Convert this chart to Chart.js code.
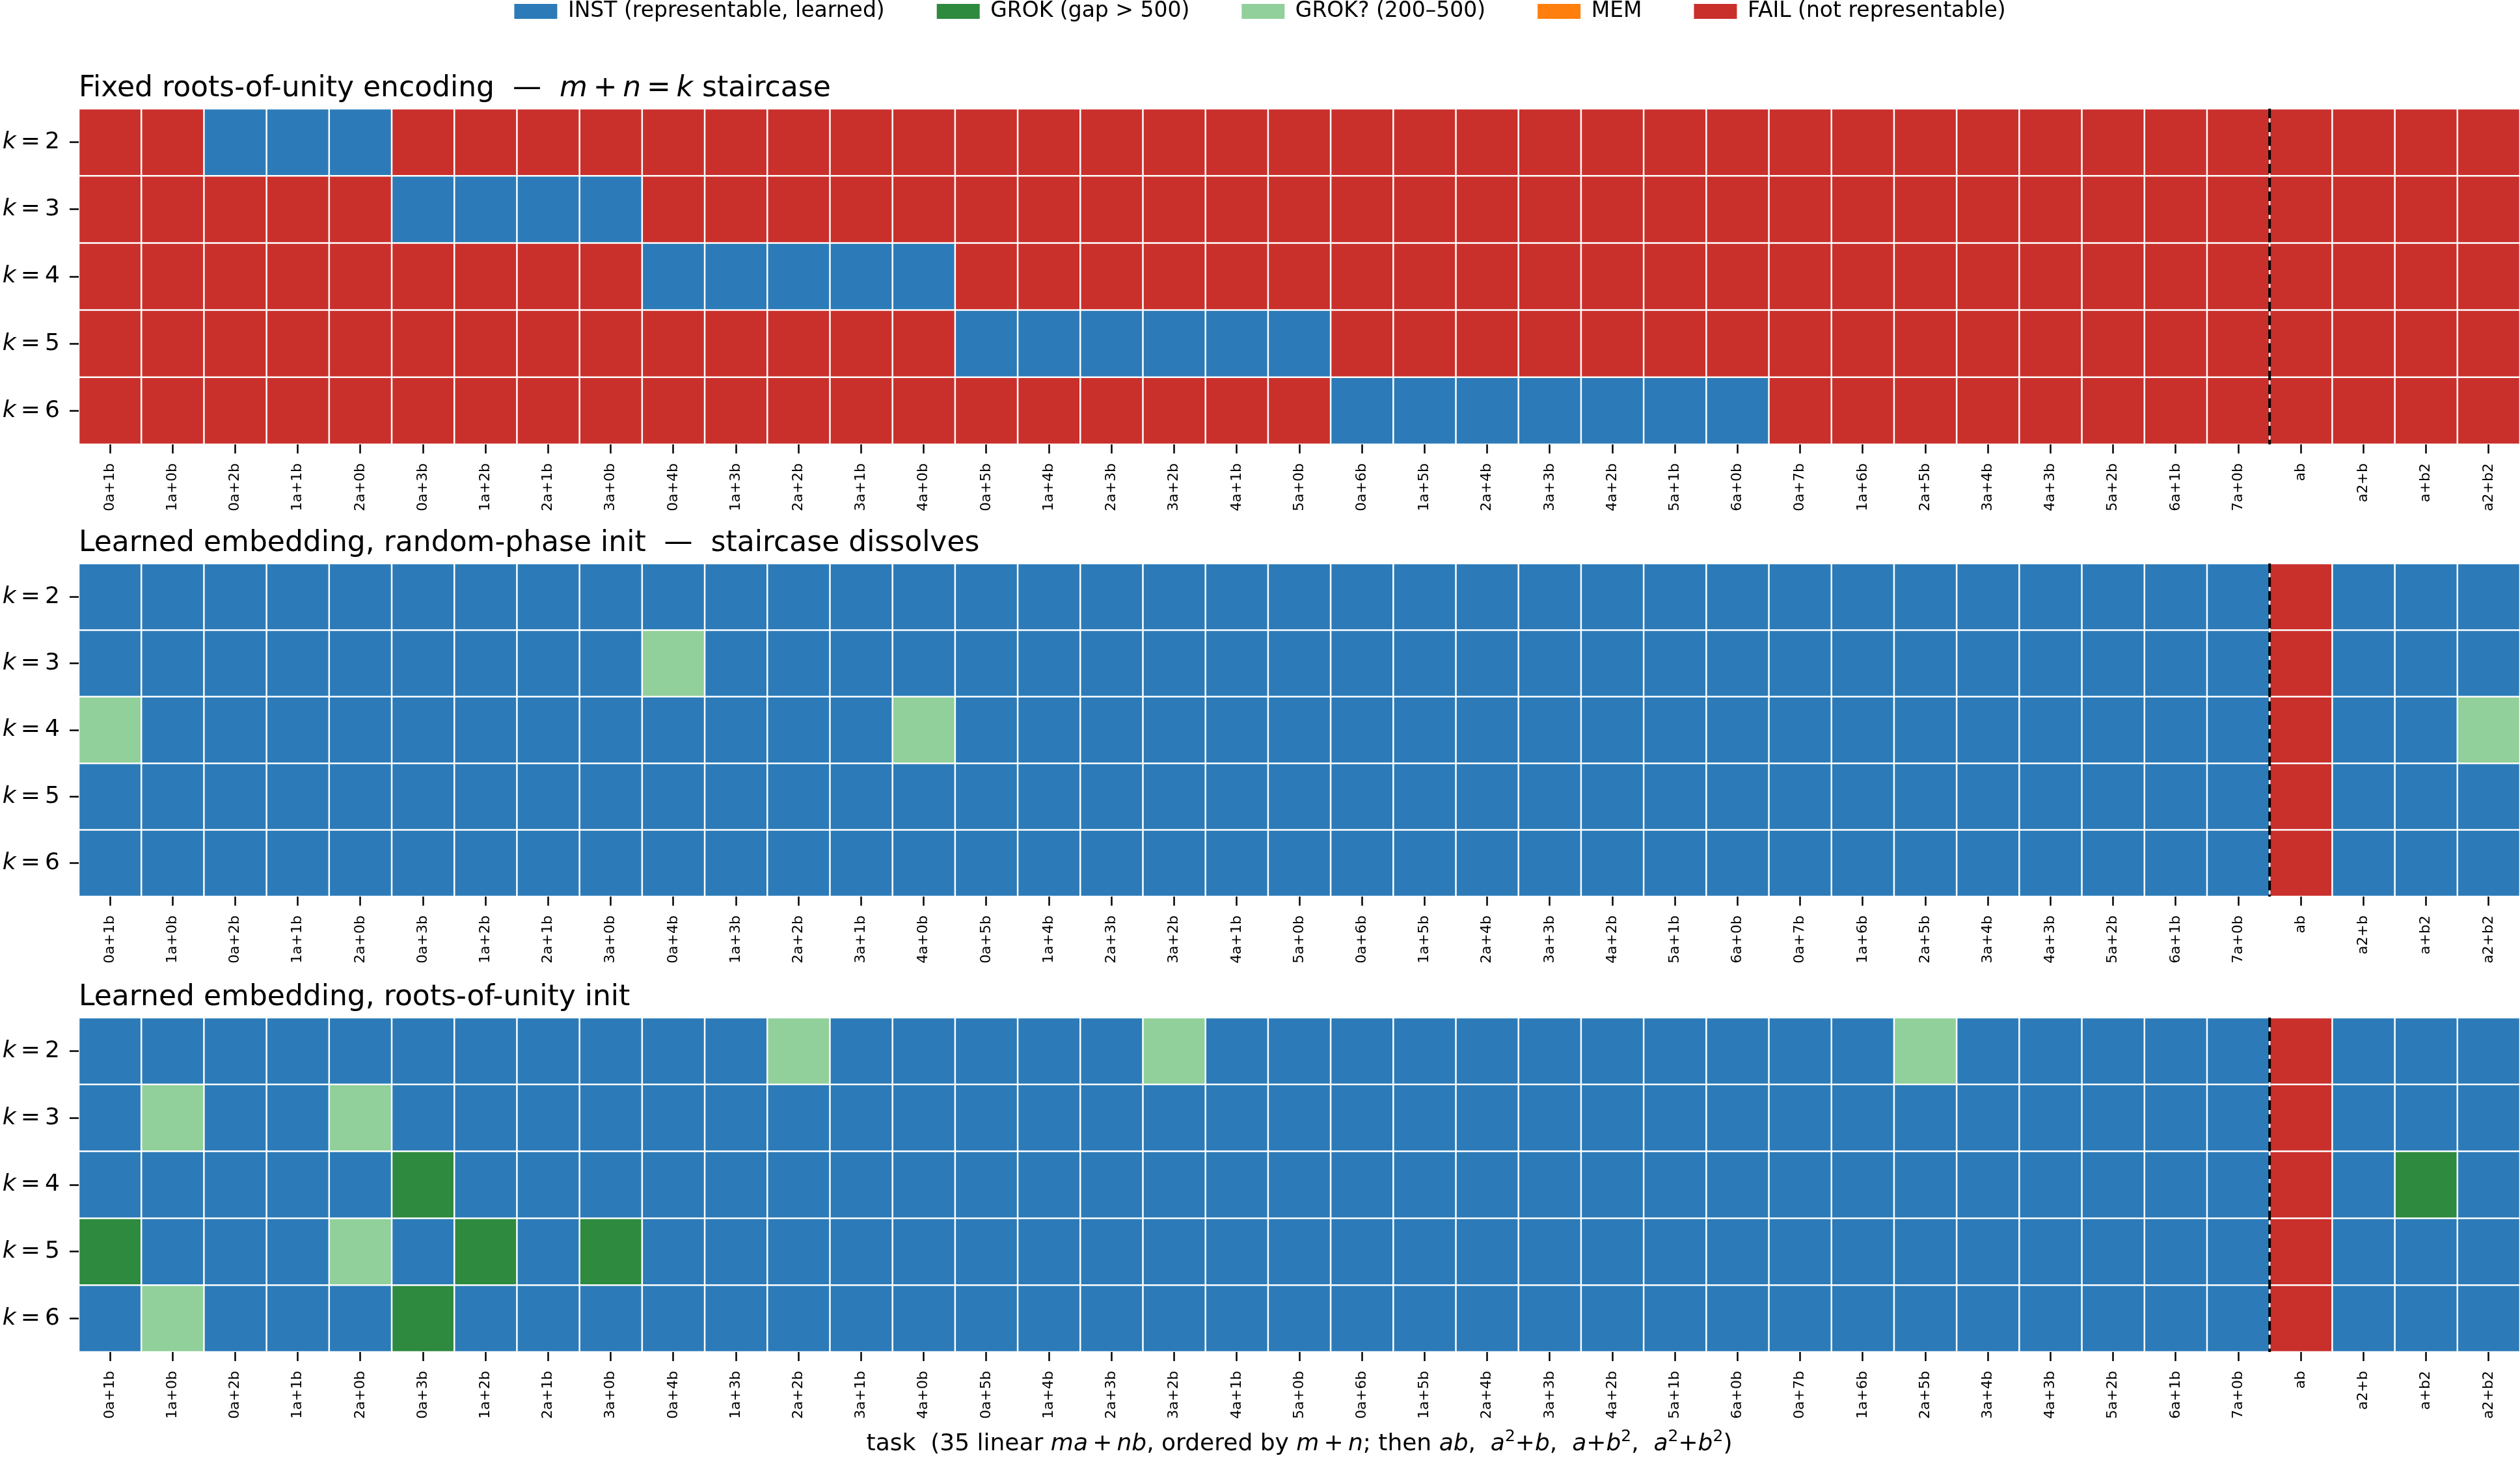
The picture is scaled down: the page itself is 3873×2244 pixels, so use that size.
<!DOCTYPE html>
<html>
<head>
<meta charset="utf-8">
<script src="https://cdn.jsdelivr.net/npm/chart.js@4.4.1/dist/chart.umd.min.js"></script>
<style>
  body { margin: 0; background: #fff; }
  #fig { position: relative; width: 3873px; height: 2244px; overflow: hidden; background: #fff; }
  #fig canvas { position: absolute; left: 0; }
</style>
</head>
<body>
<div id="fig">
  <canvas id="c1" width="3873" height="902" style="top:-79px"></canvas>
  <canvas id="c2" width="3873" height="738" style="top:780px"></canvas>
  <canvas id="c3" width="3873" height="766" style="top:1478px"></canvas>
</div>
<script>
const FONT = 'DejaVu Sans';
const TS = '\u2009'; // thin space, as mathtext puts around + and =

const taskLabels = [
  '0a+1b', '1a+0b',
  '0a+2b', '1a+1b', '2a+0b',
  '0a+3b', '1a+2b', '2a+1b', '3a+0b',
  '0a+4b', '1a+3b', '2a+2b', '3a+1b', '4a+0b',
  '0a+5b', '1a+4b', '2a+3b', '3a+2b', '4a+1b', '5a+0b',
  '0a+6b', '1a+5b', '2a+4b', '3a+3b', '4a+2b', '5a+1b', '6a+0b',
  '0a+7b', '1a+6b', '2a+5b', '3a+4b', '4a+3b', '5a+2b', '6a+1b', '7a+0b',
  'ab', 'a2+b', 'a+b2', 'a2+b2'
];
const kValues = [2, 3, 4, 5, 6];

// status codes: I = INST, G = GROK, g = GROK?, M = MEM, F = FAIL
// rows are k = 2..6, '|' only separates the m+n groups
const fixedGrid = [
  'FF|III|FFFF|FFFFF|FFFFFF|FFFFFFF|FFFFFFFF|FFFF',
  'FF|FFF|IIII|FFFFF|FFFFFF|FFFFFFF|FFFFFFFF|FFFF',
  'FF|FFF|FFFF|IIIII|FFFFFF|FFFFFFF|FFFFFFFF|FFFF',
  'FF|FFF|FFFF|FFFFF|IIIIII|FFFFFFF|FFFFFFFF|FFFF',
  'FF|FFF|FFFF|FFFFF|FFFFFF|IIIIIII|FFFFFFFF|FFFF'
];
const randomGrid = [
  'II|III|IIII|IIIII|IIIIII|IIIIIII|IIIIIIII|FIII',
  'II|III|IIII|gIIII|IIIIII|IIIIIII|IIIIIIII|FIII',
  'gI|III|IIII|IIIIg|IIIIII|IIIIIII|IIIIIIII|FIIg',
  'II|III|IIII|IIIII|IIIIII|IIIIIII|IIIIIIII|FIII',
  'II|III|IIII|IIIII|IIIIII|IIIIIII|IIIIIIII|FIII'
];
const rootsGrid = [
  'II|III|IIII|IIgII|IIIgII|IIIIIII|IIgIIIII|FIII',
  'Ig|IIg|IIII|IIIII|IIIIII|IIIIIII|IIIIIIII|FIII',
  'II|III|GIII|IIIII|IIIIII|IIIIIII|IIIIIIII|FIGI',
  'GI|IIg|IGIG|IIIII|IIIIII|IIIIIII|IIIIIIII|FIII',
  'Ig|III|GIII|IIIII|IIIIII|IIIIIII|IIIIIIII|FIII'
];

const statusKeys = ['I', 'G', 'g', 'M', 'F'];
const statusNames = ['INST (representable, learned)', 'GROK (gap > 500)', 'GROK? (200\u2013500)', 'MEM', 'FAIL (not representable)'];
const statusColors = { I: '#2c7bb8', G: '#2e8a3e', g: '#91d09a', M: '#ff7f0e', F: '#c9302c' };

const titles = [
  [['Fixed roots-of-unity encoding  \u2014  ', 'n'], ['m', 'i'], [TS + '+' + TS, 'n'], ['n', 'i'], [TS + '=' + TS, 'n'], ['k', 'i'], [' staircase', 'n']],
  [['Learned embedding, random-phase init  \u2014  staircase dissolves', 'n']],
  [['Learned embedding, roots-of-unity init', 'n']]
];
const xLabel = [
  ['task  (35 linear ', 'n'], ['ma', 'i'], [TS + '+' + TS, 'n'], ['nb', 'i'], [', ordered by ', 'n'], ['m', 'i'], [TS + '+' + TS, 'n'], ['n', 'i'],
  ['; then ', 'n'], ['ab', 'i'], [',  ', 'n'],
  ['a', 'i'], ['2', 's'], ['+', 'n'], ['b', 'i'], [',  ', 'n'],
  ['a', 'i'], ['+', 'n'], ['b', 'i'], ['2', 's'], [',  ', 'n'],
  ['a', 'i'], ['2', 's'], ['+', 'n'], ['b', 'i'], ['2', 's'], [')', 'n']
];

Chart.defaults.font.family = FONT;
Chart.defaults.color = '#000';

function drawRich(ctx, segs, x, y, align, size, baseline) {
  const fontFor = st => (st === 'i' ? 'italic ' : '') + (st === 's' ? Math.round(size * 0.7) : size) + 'px "' + FONT + '"';
  let w = 0;
  segs.forEach(([t, st]) => { ctx.font = fontFor(st); w += ctx.measureText(t).width; });
  let cx = align === 'right' ? x - w : align === 'center' ? x - w / 2 : x;
  ctx.textAlign = 'left';
  ctx.textBaseline = baseline || 'alphabetic';
  ctx.fillStyle = '#000';
  segs.forEach(([t, st]) => {
    ctx.font = fontFor(st);
    ctx.fillText(t, cx, st === 's' ? y - size * 0.38 : y);
    cx += ctx.measureText(t).width;
  });
}

const heatText = {
  id: 'heatText',
  afterDatasetsDraw(chart) {
    const ctx = chart.ctx;
    const area = chart.chartArea;
    const xs = chart.scales.x;
    const sep = taskLabels.indexOf('ab');
    const x = (xs.getPixelForValue(sep - 1) + xs.getPixelForValue(sep)) / 2;
    ctx.save();
    ctx.strokeStyle = '#000';
    ctx.lineWidth = 4;
    ctx.setLineDash([14.8, 6.4]);
    ctx.beginPath();
    ctx.moveTo(x, area.top);
    ctx.lineTo(x, area.bottom);
    ctx.stroke();
    ctx.restore();
  },
  afterDraw(chart, args, opts) {
    const ctx = chart.ctx;
    const area = chart.chartArea;
    const ys = chart.scales.y;
    ctx.save();
    drawRich(ctx, opts.title, area.left, area.top - 19, 'left', 44);
    kValues.forEach(k => {
      drawRich(ctx, [['k', 'i'], [TS + '=' + TS + k, 'n']], area.left - 29, ys.getPixelForValue(k), 'right', 36, 'middle');
    });
    if (opts.xlabel) {
      drawRich(ctx, opts.xlabel, (area.left + area.right) / 2, area.bottom + 151, 'center', 36);
    }
    ctx.restore();
  }
};

function cells(row) {
  return row.replace(/\|/g, '').split('');
}

function makeHeatmap(id, grid, panel) {
  const datasets = kValues.map((k, r) => {
    const codes = cells(grid[r]);
    return {
      label: 'k = ' + k,
      data: codes.map(() => [k - 0.5, k + 0.5]),
      backgroundColor: codes.map(c => statusColors[c]),
      borderColor: '#ffffff',
      borderWidth: 1.25,
      borderSkipped: false,
      inflateAmount: 0,
      grouped: false,
      barPercentage: 1,
      categoryPercentage: 1
    };
  });

  const tickGrid = {
    display: true,
    drawOnChartArea: false,
    drawTicks: true,
    tickLength: 14,
    tickWidth: 2.5,
    tickColor: '#000',
    color: '#000',
    offset: false
  };

  new Chart(document.getElementById(id), {
    type: 'bar',
    data: { labels: taskLabels, datasets },
    plugins: [heatText],
    options: {
      responsive: false,
      animation: false,
      devicePixelRatio: 1,
      events: [],
      layout: { padding: 0 },
      plugins: {
        legend: {
          display: panel.legend,
          position: 'top',
          labels: {
            boxWidth: 66,
            boxHeight: 23,
            padding: 80,
            color: '#000',
            font: { size: 33 },
            generateLabels: () => statusKeys.map((s, i) => ({
              text: statusNames[i],
              fillStyle: statusColors[s],
              strokeStyle: statusColors[s],
              lineWidth: 0,
              hidden: false
            }))
          }
        },
        title: {
          display: true,
          text: panel.plainTitle,
          color: 'rgba(0,0,0,0)',
          align: 'start',
          fullSize: false,
          weight: 500,
          font: { size: 40 },
          padding: { top: panel.titleTop, bottom: 7 }
        },
        tooltip: { enabled: false },
        heatText: { title: panel.title, xlabel: panel.xlabel }
      },
      scales: {
        x: {
          type: 'category',
          offset: true,
          grid: tickGrid,
          border: { display: false },
          ticks: {
            autoSkip: false,
            maxRotation: 90,
            minRotation: 90,
            padding: 15,
            color: '#000',
            font: { size: 22 }
          },
          afterFit: s => { s.height = panel.axisHeight; }
        },
        y: {
          type: 'linear',
          min: 1.5,
          max: 6.5,
          reverse: true,
          grid: tickGrid,
          border: { display: false },
          afterBuildTicks: s => { s.ticks = kValues.map(v => ({ value: v })); },
          ticks: {
            color: 'rgba(0,0,0,0)',
            padding: 15,
            font: { size: 36 },
            callback: v => 'k = ' + v
          },
          afterFit: s => { s.width = 121; }
        }
      }
    }
  });
}

makeHeatmap('c1', fixedGrid, {
  legend: true,
  plainTitle: 'Fixed roots-of-unity encoding  \u2014  m + n = k staircase',
  title: titles[0],
  titleTop: 68,
  axisHeight: 140,
  xlabel: null
});
makeHeatmap('c2', randomGrid, {
  legend: false,
  plainTitle: 'Learned embedding, random-phase init  \u2014  staircase dissolves',
  title: titles[1],
  titleTop: 31,
  axisHeight: 140,
  xlabel: null
});
makeHeatmap('c3', rootsGrid, {
  legend: false,
  plainTitle: 'Learned embedding, roots-of-unity init',
  title: titles[2],
  titleTop: 31,
  axisHeight: 166,
  xlabel: xLabel
});
</script>
</body>
</html>
